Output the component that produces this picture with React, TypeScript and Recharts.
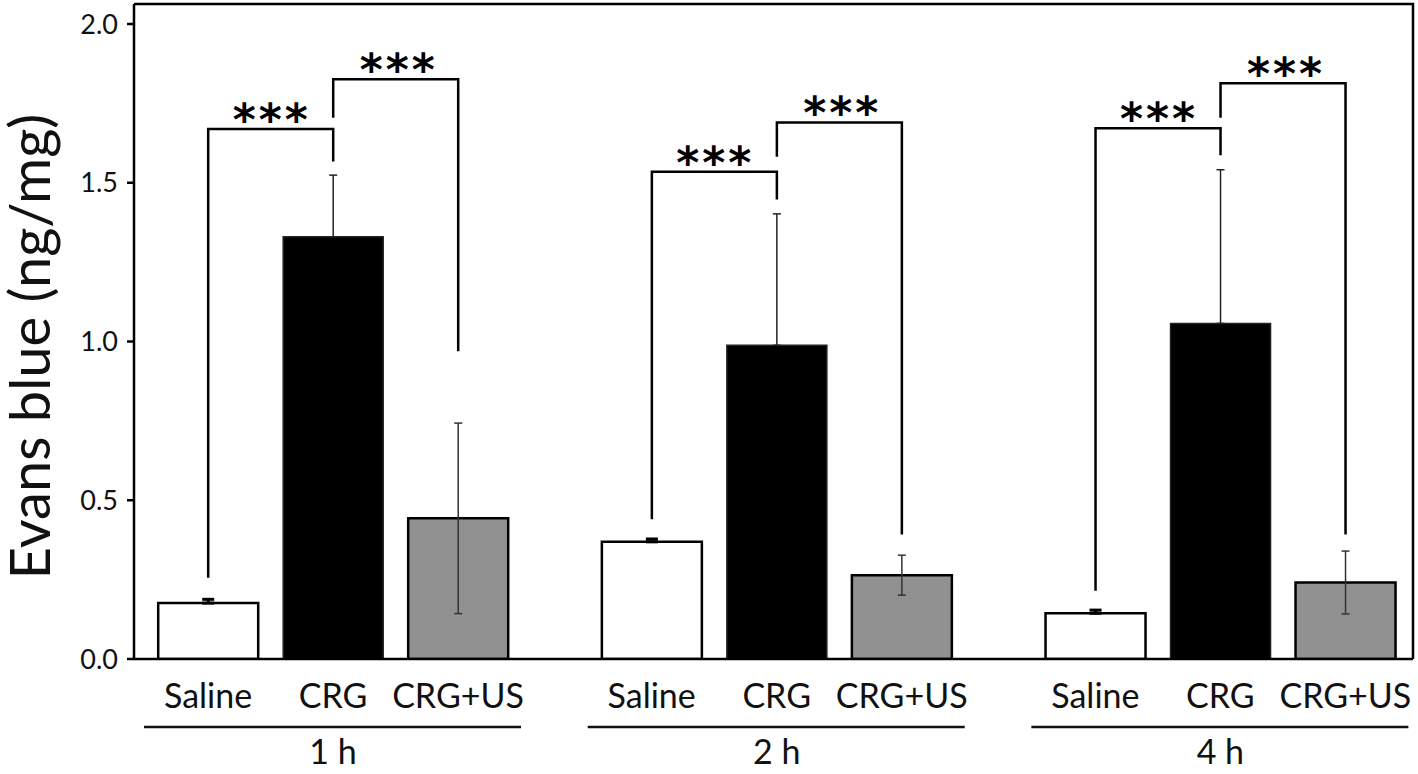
import React from 'react';
import { BarChart, Bar, XAxis, YAxis, ErrorBar, LabelList, Label } from 'recharts';

const times = ['1 h', '2 h', '4 h'];
const groups = ['Saline', 'CRG', 'CRG+US'];

const saline = [0.176, 0.369, 0.144];
const salineErr = [0.012, 0.009, 0.01];
const crg = [1.33, 0.988, 1.057];
const crgErr = [0.194, 0.414, 0.484];
const crgUs = [0.443, 0.264, 0.241];
const crgUsErr = [0.3, 0.063, 0.099];

const yTicks = [0, 0.5, 1, 1.5, 2];

// significance brackets, in ng/mg: A = Saline vs CRG, B = CRG vs CRG+US
const aTop = [1.669, 1.535, 1.672];
const aLeftEnd = [0.256, 0.44, 0.215];
const aRightEnd = [1.567, 1.447, 1.587];
const bTop = [1.826, 1.69, 1.813];
const bLeftEnd = [1.705, 1.582, 1.705];
const bRightEnd = [0.969, 0.392, 0.392];
const stars = ['***', '***', '***'];

const data = times.map((t, i) => ({
  time: t,
  saline: saline[i],
  // saline / CRG SD only shows above the bar in the figure
  salineErr: [0, salineErr[i]],
  crg: crg[i],
  crgErr: [0, crgErr[i]],
  crgUs: crgUs[i],
  crgUsErr: crgUsErr[i],
}));

const W = 1418;
const H = 774;
const MARGIN = { top: 4, right: 5, left: 0, bottom: 0 };
const BAR = 100;
const GAP = 25;
const FONT = 'Lato, "Open Sans", sans-serif';
const AXIS = { stroke: '#000', strokeWidth: 2.5 };

function GroupTick(props: any) {
  const { x, y, payload } = props;
  const step = BAR + GAP;
  return (
    <g>
      {groups.map((g, i) => (
        <text key={g} x={x + (i - 1) * step} y={y + 49} textAnchor="middle" fontSize={34} fontFamily={FONT} fill="#111">
          {g}
        </text>
      ))}
      <line x1={x - 189} x2={x + 188} y1={y + 68} y2={y + 68} stroke="#111" strokeWidth={2.5} />
      <text x={x} y={y + 105} textAnchor="middle" fontSize={34} fontFamily={FONT} fill="#111">
        {payload.value}
      </text>
    </g>
  );
}

function Brackets(props: any) {
  const { index } = props;
  const vb = props.viewBox ?? props;
  if (vb == null || vb.x == null) return null;
  const cx = vb.x + vb.width / 2;
  const step = vb.width + GAP;
  const base = vb.y + vb.height;
  const k = vb.height / crg[index];
  const py = (v: number) => base - v * k;
  const starStyle = { fontSize: 44, fontWeight: 700, fontFamily: '"DejaVu Sans", sans-serif', letterSpacing: 3 };
  return (
    <g>
      <path
        d={`M${cx - step},${py(aLeftEnd[index])}V${py(aTop[index])}H${cx}V${py(aRightEnd[index])}`}
        fill="none"
        stroke="#000"
        strokeWidth={2.5}
      />
      <text x={cx - step / 2 + 1} y={py(aTop[index]) + 6} textAnchor="middle" fill="#000" style={starStyle}>
        {stars[index]}
      </text>
      <path
        d={`M${cx},${py(bLeftEnd[index])}V${py(bTop[index])}H${cx + step}V${py(bRightEnd[index])}`}
        fill="none"
        stroke="#000"
        strokeWidth={2.5}
      />
      <text x={cx + step / 2 + 3} y={py(bTop[index]) + 6} textAnchor="middle" fill="#000" style={starStyle}>
        {stars[index]}
      </text>
    </g>
  );
}

// y title + the box around the plot area (top and right edges)
function YTitle(props: any) {
  const vb = props.viewBox;
  const x = vb.x + 50;
  const y = vb.y + vb.height / 2 + 15;
  const left = vb.x + vb.width;
  const right = W - MARGIN.right;
  return (
    <g>
      <path d={`M${left},${vb.y}H${right}V${vb.y + vb.height}`} fill="none" stroke="#000" strokeWidth={2.5} />
      <text x={x} y={y} transform={`rotate(-90 ${x} ${y})`} textAnchor="middle" fontSize={56} fontFamily={FONT} fill="#111">
        Evans blue (ng/mg)
      </text>
    </g>
  );
}

export default function App() {
  return (
    <div style={{ position: 'absolute', left: 0, top: 0, width: W, height: H, background: '#fff' }}>
      <BarChart width={W} height={H} data={data} margin={MARGIN} barGap={GAP} barSize={BAR}>
        <XAxis
          dataKey="time"
          height={115}
          axisLine={AXIS}
          tickLine={false}
          tickSize={0}
          tickMargin={0}
          interval={0}
          tick={<GroupTick />}
          padding={{ left: -22.8, right: -29.2 }}
        />
        <YAxis
          domain={[0, 2.063]}
          ticks={yTicks}
          tickFormatter={(v: number) => v.toFixed(1)}
          width={134}
          axisLine={AXIS}
          tickLine={AXIS}
          tickSize={7}
          tickMargin={9}
          tick={{ fontSize: 27, fontFamily: FONT, fill: '#111' }}
          allowDataOverflow
        >
          <Label content={<YTitle />} />
        </YAxis>
        <Bar dataKey="saline" name="Saline" fill="#ffffff" stroke="#000" strokeWidth={2.5} isAnimationActive={false}>
          <ErrorBar dataKey="salineErr" width={6} stroke="#000" strokeWidth={3} />
        </Bar>
        <Bar dataKey="crg" name="CRG" fill="#000000" stroke="#222" strokeWidth={1.5} isAnimationActive={false}>
          <ErrorBar dataKey="crgErr" width={4} stroke="#222" strokeWidth={1.5} />
          <LabelList dataKey="crg" content={<Brackets />} />
        </Bar>
        <Bar dataKey="crgUs" name="CRG+US" fill="#919191" stroke="#000" strokeWidth={2.5} isAnimationActive={false}>
          <ErrorBar dataKey="crgUsErr" width={4} stroke="#333" strokeWidth={1.5} />
        </Bar>
      </BarChart>
    </div>
  );
}
